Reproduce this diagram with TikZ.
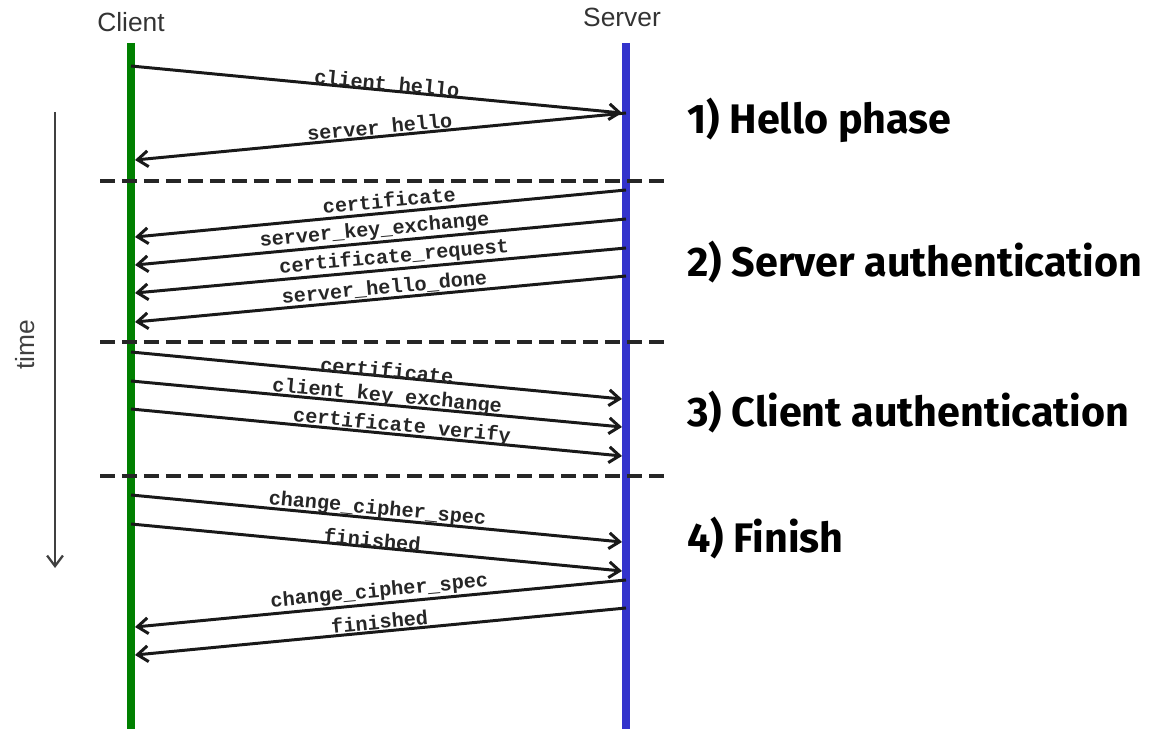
\documentclass[tikz,border=0pt]{standalone}
\usepackage{fontspec}
\setmainfont{Liberation Sans}
\setmonofont{Liberation Mono}
\newfontfamily\phasefont{Fira Sans}
\usetikzlibrary{arrows.meta}
\definecolor{clientgreen}{RGB}{0,128,0}
\definecolor{serverblue}{RGB}{51,51,204}

\begin{document}
\begin{tikzpicture}[x=0.02cm,y=-0.02cm,
		lifeline/.style={line width=4.5pt},
		msg/.style={-{Straight Barb[length=6pt,width=9pt]}, line width=1.7pt, color=black!90},
		msglabel/.style={midway, above, sloped, inner sep=0.5pt, font=\ttfamily\bfseries\fontsize{11.5}{12}\selectfont, text=black!85},
		phasesep/.style={line width=1.8pt, color=black!85, dash pattern=on 8.5pt off 4pt},
		phaselabel/.style={anchor=base west, font=\phasefont\bfseries\fontsize{23.5}{25}\selectfont},
		actor/.style={font=\fontsize{15}{16}\selectfont, text=black!80}]
		\useasboundingbox (0,0) rectangle (1150,729);

		\node[actor] (client) at (131,22) {Client};
		\node[actor] (server) at (622,17) {Server};

		\coordinate (ctop) at (131,43);
		\coordinate (cbot) at (131,729);
		\coordinate (stop) at (626,43);
		\coordinate (sbot) at (626,729);
		\draw[lifeline, color=clientgreen] (ctop) -- (cbot);
		\draw[lifeline, color=serverblue] (stop) -- (sbot);

		\coordinate (tstart) at (55,112);
		\coordinate (tend) at (55,568);
		\draw[msg, color=black!75, line width=1.3pt] (tstart) -- (tend);
		\node[actor, rotate=90, text=black!75] (time) at (25,345) {time};

		\coordinate (sep1l) at (100,181);
		\coordinate (sep1r) at (668,181);
		\coordinate (sep2l) at (100,342);
		\coordinate (sep2r) at (668,342);
		\coordinate (sep3l) at (100,476);
		\coordinate (sep3r) at (668,476);
		\draw[phasesep] (sep1l) -- (sep1r);
		\draw[phasesep] (sep2l) -- (sep2r);
		\draw[phasesep] (sep3l) -- (sep3r);

		% hello phase
		\coordinate (c1) at (131,66);
		\coordinate (s1) at (622,113);
		\coordinate (s2) at (626,113);
		\coordinate (c2) at (135,160);
		\draw[msg] (c1) -- (s1) node[msglabel, inner sep=-1pt, pos=0.52] {client hello};
		\draw[msg] (s2) -- (c2) node[msglabel] {server hello};

		% server authentication
		\coordinate (s3) at (626,190);
		\coordinate (c3) at (135,237);
		\coordinate (s4) at (626,219);
		\coordinate (c4) at (135,265);
		\coordinate (s5) at (626,248);
		\coordinate (c5) at (135,293);
		\coordinate (s6) at (626,276);
		\coordinate (c6) at (135,322);
		\draw[msg] (s3) -- (c3) node[msglabel, inner sep=2pt, pos=0.48] {certificate};
		\draw[msg] (s4) -- (c4) node[msglabel, pos=0.51] {server\_key\_exchange};
		\draw[msg] (s5) -- (c5) node[msglabel, pos=0.47] {certificate\_request};
		\draw[msg] (s6) -- (c6) node[msglabel, pos=0.49] {server\_hello\_done};

		% client authentication
		\coordinate (c7) at (131,352);
		\coordinate (s7) at (622,399);
		\coordinate (c8) at (131,381);
		\coordinate (s8) at (622,427);
		\coordinate (c9) at (131,409);
		\coordinate (s9) at (622,456);
		\draw[msg] (c7) -- (s7) node[msglabel, inner sep=-1.5pt, pos=0.52] {certificate};
		\draw[msg] (c8) -- (s8) node[msglabel, inner sep=-1.5pt, pos=0.52] {client key exchange};
		\draw[msg] (c9) -- (s9) node[msglabel, inner sep=-1.5pt, pos=0.55] {certificate verify};

		% finish
		\coordinate (c10) at (131,495);
		\coordinate (s10) at (622,542);
		\coordinate (c11) at (131,524);
		\coordinate (s11) at (622,571);
		\coordinate (s12) at (626,580);
		\coordinate (c12) at (135,627);
		\coordinate (s13) at (626,608);
		\coordinate (c13) at (135,655);
		\draw[msg] (c10) -- (s10) node[msglabel, inner sep=-1pt] {change\_cipher\_spec};
		\draw[msg] (c11) -- (s11) node[msglabel, inner sep=-1pt, pos=0.49] {finished};
		\draw[msg] (s12) -- (c12) node[msglabel] {change\_cipher\_spec};
		\draw[msg] (s13) -- (c13) node[msglabel] {finished};

		\node[phaselabel] (hello) at (681,134) {1) Hello phase};
		\node[phaselabel] (srvauth) at (681,277) {2) Server authentication};
		\node[phaselabel] (cliauth) at (681,427) {3) Client authentication};
		\node[phaselabel] (finish) at (681,553) {4) Finish};
	\end{tikzpicture}
\end{document}
